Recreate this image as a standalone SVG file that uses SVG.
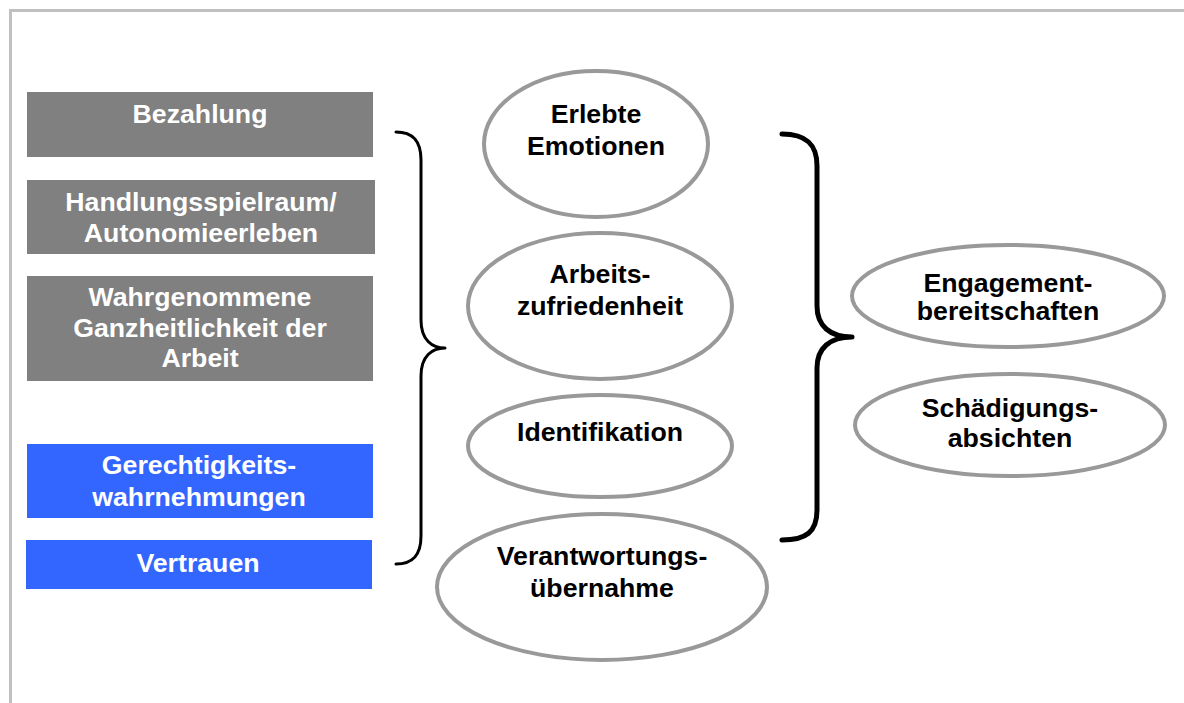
<svg xmlns="http://www.w3.org/2000/svg" width="1184" height="703" viewBox="0 0 1184 703">
<style>
.box-g{fill:#808080}
.box-b{fill:#3366FF}
.ell{fill:#ffffff;stroke:#999999;stroke-width:4}
.t{font-family:"Liberation Sans",Arial,sans-serif;font-weight:bold;font-size:26.7px;text-anchor:middle}
.tw{fill:#ffffff}
.tk{fill:#000000}
.brace{fill:none;stroke:#000000;stroke-linecap:round;stroke-linejoin:round}
</style>
<rect width="1184" height="703" fill="#ffffff"/>
<g id="frame">
<line x1="10" y1="10.5" x2="1184" y2="10.5" stroke="#c0c0c0" stroke-width="3"/>
<line x1="10.5" y1="9" x2="10.5" y2="703" stroke="#c0c0c0" stroke-width="3"/>
</g>
<g id="bezahlung">
<rect class="box-g" x="27" y="92" width="346" height="65"/>
<text class="t tw" x="200" y="123">Bezahlung</text>
</g>
<g id="handlungsspielraum">
<rect class="box-g" x="27" y="180" width="348" height="74"/>
<text class="t tw" x="201" y="211">Handlungsspielraum/</text>
<text class="t tw" x="201" y="242">Autonomieerleben</text>
</g>
<g id="ganzheitlichkeit">
<rect class="box-g" x="27" y="276" width="346" height="105"/>
<text class="t tw" x="200" y="306">Wahrgenommene</text>
<text class="t tw" x="200" y="337">Ganzheitlichkeit der</text>
<text class="t tw" x="200" y="367">Arbeit</text>
</g>
<g id="gerechtigkeit">
<rect class="box-b" x="27" y="444" width="346" height="74"/>
<text class="t tw" x="199" y="474">Gerechtigkeits-</text>
<text class="t tw" x="199" y="506">wahrnehmungen</text>
</g>
<g id="vertrauen">
<rect class="box-b" x="26" y="540" width="346" height="49"/>
<text class="t tw" x="198" y="572">Vertrauen</text>
</g>
<g id="connectors">
<path class="brace" stroke-width="3" d="M396,132 C412,132 421,140 421,160 L421,320 C421,340 432,348 445,348 C432,348 421,356 421,376 L421,536 C421,556 412,564 396,564"/>
<path class="brace" stroke-width="5" d="M782,134 C806,134 817,144 817,166 L817,306 C817,326 830,337 852,337 C830,337 817,348 817,368 L817,510 C817,532 806,540 782,540"/>
</g>
<g id="emotionen">
<ellipse class="ell" cx="596" cy="144" rx="112" ry="73"/>
<text class="t tk" x="596" y="123">Erlebte</text>
<text class="t tk" x="596" y="155">Emotionen</text>
</g>
<g id="zufriedenheit">
<ellipse class="ell" cx="600" cy="306" rx="132" ry="73"/>
<text class="t tk" x="600" y="283">Arbeits-</text>
<text class="t tk" x="600" y="315">zufriedenheit</text>
</g>
<g id="identifikation">
<ellipse class="ell" cx="600" cy="446" rx="132" ry="51"/>
<text class="t tk" x="600" y="441">Identifikation</text>
</g>
<g id="verantwortung">
<ellipse class="ell" cx="602" cy="587" rx="165" ry="73"/>
<text class="t tk" x="602" y="565">Verantwortungs-</text>
<text class="t tk" x="602" y="597">übernahme</text>
</g>
<g id="engagement">
<ellipse class="ell" cx="1008" cy="296" rx="156" ry="51"/>
<text class="t tk" x="1008" y="292">Engagement-</text>
<text class="t tk" x="1008" y="320">bereitschaften</text>
</g>
<g id="schaedigung">
<ellipse class="ell" cx="1010" cy="425" rx="155" ry="51"/>
<text class="t tk" x="1010" y="417">Schädigungs-</text>
<text class="t tk" x="1010" y="447">absichten</text>
</g>
</svg>
